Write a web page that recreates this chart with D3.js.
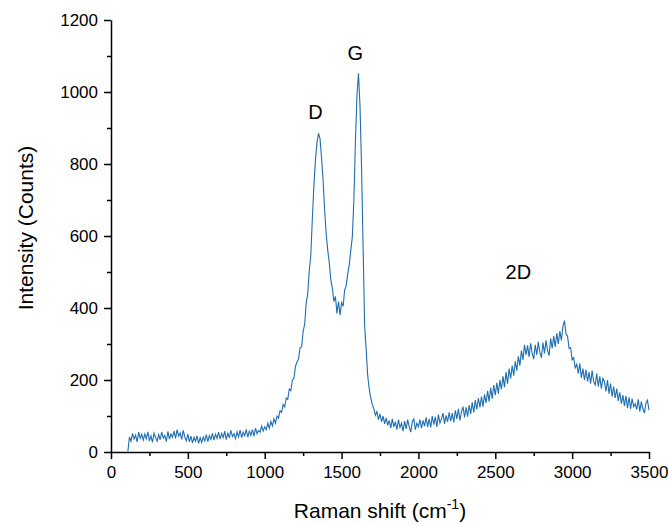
<!DOCTYPE html>
<html>
<head>
<meta charset="utf-8">
<script src="https://cdn.jsdelivr.net/npm/d3@7"></script>
<style>
  body { margin: 0; background: white; }
  text { font-family: "Liberation Sans", Arial, sans-serif; }
</style>
</head>
<body>
<svg id="chart" width="668" height="524"></svg>
<script>
// Raman spectrum, one intensity reading every 10 cm-1 from 110 to 3500
var shiftStart = 110;
var shiftStep = 10;
var intensity = [
  2, 42, 30, 52, 36, 47, 28, 55, 38, 49,            // 110-200
  33, 50, 37, 56, 31, 45, 27, 52, 40, 30,           // 210-300
  48, 34, 55, 38, 46, 29, 57, 36, 50, 41,           // 310-400
  58, 38, 62, 44, 53, 35, 60, 42, 31, 50,           // 410-500
  28, 44, 25, 41, 30, 45, 24, 40, 27, 42,           // 510-600
  31, 48, 29, 46, 35, 52, 33, 49, 38, 55,           // 610-700
  36, 52, 40, 58, 34, 54, 39, 60, 43, 51,           // 710-800
  37, 56, 42, 61, 40, 55, 45, 63, 41, 58,           // 810-900
  46, 62, 44, 66, 51, 60, 55, 72, 58, 70,           // 910-1000
  62, 80, 66, 85, 72, 92, 80, 100, 94, 115,         // 1010-1100
  110, 132, 125, 150, 146, 175, 170, 200, 205, 238, // 1110-1200
  250, 258, 290, 292, 335, 355, 415, 440, 505, 548, // 1210-1300
  650, 740, 810, 860, 885, 870, 815, 755, 670, 605, // 1310-1400
  560, 525, 478, 455, 418, 432, 385, 418, 380, 415, // 1410-1500
  405, 450, 462, 495, 520, 560, 598, 700, 860, 990, // 1510-1600
  1052, 960, 790, 570, 350, 285, 212, 175, 150, 132, // 1610-1700
  120, 102, 112, 90, 106, 84, 100, 78, 95, 74,      // 1710-1800
  88, 66, 92, 70, 84, 62, 90, 68, 80, 58,           // 1810-1900
  86, 64, 90, 70, 55, 84, 92, 62, 80, 70,           // 1910-2000
  90, 66, 88, 72, 96, 70, 92, 68, 100, 76,          // 2010-2100
  98, 70, 104, 80, 92, 108, 78, 102, 84, 110,       // 2110-2200
  86, 108, 82, 116, 92, 120, 88, 112, 126, 96,      // 2210-2300
  124, 98, 130, 106, 138, 110, 144, 118, 150, 124,  // 2310-2400
  154, 126, 160, 136, 170, 140, 178, 148, 186, 158, // 2410-2500
  192, 162, 200, 174, 210, 180, 222, 190, 232, 204, // 2510-2600
  240, 212, 252, 226, 266, 240, 282, 256, 298, 270, // 2610-2700
  296, 264, 302, 274, 258, 298, 270, 306, 276, 262, // 2710-2800
  304, 274, 310, 282, 268, 316, 288, 322, 292, 330, // 2810-2900
  300, 336, 310, 348, 365, 328, 322, 288, 290, 256, // 2910-3000
  262, 234, 244, 218, 246, 206, 232, 200, 228, 196, // 3010-3100
  222, 190, 226, 196, 186, 218, 182, 210, 176, 204, // 3110-3200
  196, 168, 200, 162, 190, 154, 182, 150, 176, 142, // 3210-3300
  166, 134, 158, 128, 156, 122, 152, 120, 148, 126, // 3310-3400
  134, 118, 146, 112, 140, 120, 108, 136, 144, 116  // 3410-3500
];

// peak labels
var peakNames = ["D", "G", "2D"];
var peakShift = [1330, 1590, 2650];
var peakHeight = [925, 1090, 480];

var xTicks = [0, 500, 1000, 1500, 2000, 2500, 3000, 3500];
var xMinor = [250, 750, 1250, 1750, 2250, 2750, 3250];
var yTicks = [0, 200, 400, 600, 800, 1000, 1200];
var yMinor = [100, 300, 500, 700, 900, 1100];

var dataset = intensity.map(function(v, i) {
  return { shift: shiftStart + i * shiftStep, counts: v };
});

var svg = d3.select("#chart");

var xScale = d3.scaleLinear()
               .domain([0, 3500])
               .range([111, 649]);
var yScale = d3.scaleLinear()
               .domain([0, 1200])
               .range([452, 20]);

// minor ticks first, majors drawn on top
svg.append("g")
   .attr("transform", "translate(0,452)")
   .call(d3.axisBottom(xScale).tickValues(xMinor).tickSize(4).tickSizeOuter(0).tickFormat(""))
   .call(function(g) { g.select(".domain").remove(); });
svg.append("g")
   .attr("transform", "translate(111,0)")
   .call(d3.axisLeft(yScale).tickValues(yMinor).tickSize(4).tickSizeOuter(0).tickFormat(""))
   .call(function(g) { g.select(".domain").remove(); });

var xAxis = svg.append("g")
               .attr("class", "xAxis")
               .attr("transform", "translate(0,452)")
               .call(d3.axisBottom(xScale).tickValues(xTicks).tickFormat(d3.format("d"))
                       .tickSize(7).tickSizeOuter(0).tickPadding(7));
var yAxis = svg.append("g")
               .attr("class", "yAxis")
               .attr("transform", "translate(111,0)")
               .call(d3.axisLeft(yScale).tickValues(yTicks).tickFormat(d3.format("d"))
                       .tickSize(7).tickSizeOuter(0).tickPadding(6));

svg.selectAll(".tick line, .domain")
   .attr("stroke", "#000")
   .attr("stroke-width", 1.5);
svg.selectAll(".xAxis text, .yAxis text")
   .attr("font-size", 17)
   .attr("fill", "#000");

// spectrum line
var line = d3.line()
             .x(function(d) { return xScale(d.shift); })
             .y(function(d) { return yScale(d.counts); });
svg.append("path")
   .datum(dataset)
   .attr("d", line)
   .attr("fill", "none")
   .attr("stroke", "#1f6eb0")
   .attr("stroke-width", 1.1);

// peak labels
svg.selectAll(".peak")
   .data(peakNames)
   .enter()
   .append("text")
   .attr("class", "peak")
   .attr("x", function(d, i) { return xScale(peakShift[i]); })
   .attr("y", function(d, i) { return yScale(peakHeight[i]); })
   .attr("text-anchor", "middle")
   .attr("font-size", 20)
   .text(function(d) { return d; });

// axis titles
var xTitle = svg.append("text")
                .attr("x", 380)
                .attr("y", 518)
                .attr("text-anchor", "middle")
                .attr("font-size", 21);
xTitle.append("tspan").text("Raman shift (cm");
xTitle.append("tspan").attr("font-size", 14).attr("dy", -9).text("-1");
xTitle.append("tspan").attr("dy", 9).text(")");

svg.append("text")
   .attr("transform", "translate(33,228) rotate(-90)")
   .attr("text-anchor", "middle")
   .attr("font-size", 21)
   .text("Intensity (Counts)");
</script>
</body>
</html>
